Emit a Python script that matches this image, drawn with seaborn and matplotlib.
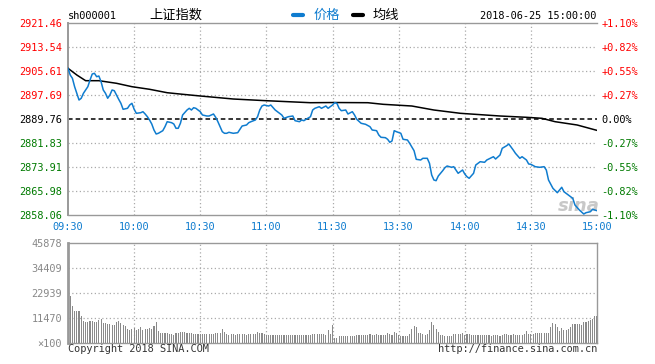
import matplotlib
matplotlib.use("Agg")
import matplotlib.pyplot as plt
from matplotlib.lines import Line2D
import seaborn as sns
import numpy as np

# ---------------- data ----------------
prev_close = 2889.76
y_ticks = [2858.06, 2865.98, 2873.91, 2881.83, 2889.76, 2897.69, 2905.61, 2913.54, 2921.46]
pct_labels = ["-1.10%", "-0.82%", "-0.55%", "-0.27%", "0.00%", "+0.27%", "+0.55%", "+0.82%", "+1.10%"]
time_labels = ["09:30", "10:00", "10:30", "11:00", "11:30", "13:30", "14:00", "14:30", "15:00"]
time_positions = [0, 30, 60, 90, 120, 150, 180, 210, 240]

price_minutes = [0, 1, 2, 3, 5, 6, 7, 9, 10, 11, 12, 13, 14, 15, 16, 17, 18, 19, 20, 21, 22, 23, 24, 25,
                 27, 28, 29, 30, 31, 33, 34, 35, 36, 37, 38, 39, 40, 41, 43, 44, 45, 47, 48, 49, 50, 51,
                 52, 54, 55, 56, 57, 58, 60, 61, 63, 64, 66, 67, 68, 69, 70, 71, 72, 73, 75, 77, 78, 79,
                 81, 82, 83, 85, 86, 87, 88, 89, 91, 92, 94, 95, 97, 98, 100, 102, 103, 105, 106, 107,
                 108, 110, 111, 112, 114, 115, 117, 118, 120, 121, 122, 123, 124, 126, 127, 129, 130,
                 131, 133, 135, 137, 138, 140, 141, 142, 144, 145, 146, 147, 148, 149, 151, 152, 154,
                 155, 157, 158, 160, 161, 163, 164, 165, 166, 167, 168, 170, 171, 172, 174, 175, 177,
                 179, 180, 181, 182, 184, 185, 187, 189, 190, 193, 194, 196, 197, 199, 200, 202, 203,
                 205, 206, 208, 209, 210, 212, 214, 216, 217, 218, 220, 222, 223, 224, 225, 227, 229,
                 230, 232, 234, 235, 237, 238, 240]
price_values = [2906.50, 2904.29, 2903.20, 2900.43, 2896.03, 2896.60, 2898.25, 2900.43, 2902.64, 2904.62,
                2904.85, 2903.73, 2903.96, 2902.08, 2899.34, 2898.25, 2896.60, 2897.68, 2899.34, 2899.10,
                2897.68, 2896.26, 2894.94, 2892.96, 2893.29, 2894.38, 2894.94, 2893.00, 2891.64, 2891.84,
                2892.17, 2891.41, 2890.52, 2889.43, 2888.11, 2886.13, 2884.81, 2885.04, 2885.90, 2887.22,
                2888.87, 2888.54, 2888.11, 2886.69, 2886.69, 2888.34, 2891.08, 2892.73, 2893.29, 2892.73,
                2893.49, 2893.29, 2892.17, 2891.08, 2890.75, 2890.75, 2891.41, 2890.32, 2888.87, 2887.22,
                2885.57, 2885.04, 2885.04, 2885.37, 2885.04, 2885.24, 2886.36, 2887.45, 2887.78, 2888.54,
                2888.87, 2889.43, 2890.52, 2892.73, 2894.05, 2894.38, 2894.05, 2894.38, 2892.73, 2892.17,
                2891.08, 2889.99, 2890.52, 2890.75, 2889.20, 2888.87, 2889.43, 2889.20, 2889.66, 2890.52,
                2892.73, 2893.29, 2893.82, 2893.29, 2894.05, 2893.29, 2894.38, 2895.14, 2894.94, 2893.29,
                2892.50, 2892.73, 2891.41, 2892.17, 2891.08, 2889.66, 2888.34, 2888.01, 2887.22, 2886.13,
                2885.90, 2884.48, 2883.72, 2883.59, 2883.06, 2882.07, 2882.50, 2885.90, 2885.57, 2885.04,
                2883.06, 2882.83, 2881.74, 2879.29, 2876.45, 2876.22, 2876.78, 2876.78, 2875.13, 2871.27,
                2869.62, 2869.39, 2870.94, 2872.69, 2873.68, 2874.24, 2873.81, 2874.01, 2871.83, 2872.92,
                2871.60, 2870.71, 2870.18, 2871.83, 2874.57, 2875.66, 2875.46, 2876.22, 2877.31, 2876.55,
                2877.87, 2880.08, 2880.94, 2881.50, 2879.52, 2878.43, 2876.78, 2877.31, 2876.22, 2874.90,
                2874.80, 2874.01, 2873.81, 2874.01, 2872.92, 2869.62, 2866.88, 2865.42, 2866.31, 2867.21,
                2865.75, 2864.66, 2863.57, 2861.36, 2859.71, 2858.39, 2858.82, 2859.15, 2859.94, 2859.48]

avg_minutes = [0, 4, 8, 14, 22, 29, 37, 45, 52, 60, 75, 90, 110, 121, 136, 143, 156, 166, 178, 196,
               208, 215, 221, 231, 240]
avg_values = [2906.50, 2904.29, 2902.41, 2902.41, 2901.55, 2900.43, 2899.57, 2898.44, 2897.92, 2897.36,
              2896.36, 2895.80, 2895.14, 2895.20, 2895.14, 2894.61, 2894.05, 2892.73, 2891.64, 2890.75,
              2890.32, 2889.99, 2888.87, 2887.78, 2886.00]

vol_ticks = [0, 11470, 22939, 34409, 45878]
vol_tick_labels = ["\u00d7100", "11470", "22939", "34409", "45878"]
volume = [
    20000, 21400, 16800, 14800, 14800, 14800, 12200, 10300, 9800, 9600,
    10300, 10300, 9600, 9800, 10700, 11000, 9200, 9200, 8900, 8700,
    8400, 8400, 9800, 10300, 9200, 8400, 7800, 6600, 6100, 6400,
    6700, 6000, 6300, 7300, 6100, 6300, 6400, 6700, 6400, 7600,
    9800, 5400, 4600, 4500, 4600, 4600, 4100, 4300, 3800, 4800,
    4800, 4900, 4900, 4900, 4800, 4500, 4400, 4000, 3900, 4300,
    4300, 4100, 4300, 4100, 4300, 4300, 4100, 4600, 4600, 4600,
    6600, 5200, 4300, 3800, 4100, 4100, 3800, 4100, 4100, 4100,
    4100, 3800, 4100, 4100, 4100, 4100, 4900, 4600, 4600, 4300,
    3800, 3500, 3800, 3500, 3700, 3800, 3800, 3500, 3500, 3500,
    3500, 3500, 3800, 3800, 3800, 3800, 3700, 3700, 3800, 3500,
    3500, 4100, 4100, 4100, 4100, 4300, 4100, 3800, 6100, 4300,
    8100, 2300, 2300, 3000, 3000, 3000, 3000, 3000, 3000, 3000,
    3400, 3800, 3800, 3800, 3800, 3800, 3800, 4100, 3800, 3800,
    4100, 3800, 3800, 3800, 3800, 4600, 4300, 3800, 5000, 4600,
    3500, 3400, 3400, 3400, 3400, 4300, 6600, 7800, 7200, 4600,
    4600, 4100, 3800, 4100, 6100, 9600, 8400, 6400, 5000, 3800,
    3500, 3400, 3400, 3400, 3400, 4300, 4300, 4000, 4000, 4600,
    3500, 4000, 4000, 3800, 3800, 3800, 3800, 3800, 3500, 3800,
    3500, 3500, 3200, 3500, 3500, 3800, 3200, 3500, 4300, 4100,
    3800, 3800, 4100, 3500, 3500, 3800, 3800, 4100, 5500, 4300,
    4100, 4300, 4600, 4600, 4600, 4600, 4600, 4600, 4600, 7500,
    9200, 8700, 7200, 5400, 6700, 6100, 6100, 6400, 7500, 8700,
    8700, 8900, 8700, 8100, 9500, 9600, 10000, 10500, 11000, 12500,
    12500]
vol_minutes = list(range(len(volume)))

# ---------------- style ----------------
sns.set_theme(style="white")
plt.rcParams["font.family"] = ["DejaVu Sans Mono", "Noto Sans CJK SC"]
MONO = ["DejaVu Sans Mono"]
CJK = ["Noto Sans CJK SC", "DejaVu Sans"]
BLUE = "#0f7ccf"
RED = "#ff0000"
GREEN = "#007a00"
GRID = "#aaaaaa"
SPINE = "#999999"
FS = 7.4

W, H = 655, 364
fig = plt.figure(figsize=(W / 100, H / 100), dpi=100)
fig.patch.set_facecolor("white")
ax = fig.add_axes([68 / W, (H - 215) / H, 529 / W, 192 / H])
axv = fig.add_axes([68 / W, (H - 343) / H, 529 / W, 100 / H])

# ---------------- main price panel ----------------
for x in time_positions[1:-1]:
    ax.axvline(x, color=GRID, lw=0.9, ls=(0, (1, 2)), zorder=0)
for y in y_ticks[1:-1]:
    if y != prev_close:
        ax.axhline(y, color=GRID, lw=0.9, ls=(0, (1, 2)), zorder=0)
ax.axhline(prev_close, color="black", lw=1.1, ls=(0, (3, 2)), zorder=1)

ax.text(0.965, 0.045, "sina", transform=ax.transAxes, fontsize=13, fontstyle="italic",
        fontweight="bold", color="#c8c8c8", ha="center", va="center", family=["DejaVu Sans"], zorder=1)

sns.lineplot(x=avg_minutes, y=avg_values, ax=ax, color="black", lw=1.1, estimator=None, zorder=3)
sns.lineplot(x=price_minutes, y=price_values, ax=ax, color=BLUE, lw=1.1, estimator=None, zorder=4)

ax.set_xlim(0, 240)
ax.set_ylim(y_ticks[0], y_ticks[-1])
ax.set_xlabel("")
ax.set_ylabel("")
ax.set_xticks(time_positions)
ax.set_xticklabels(time_labels, fontsize=FS, color=BLUE, family=MONO)
ax.set_yticks(y_ticks)
ax.set_yticklabels([f"{v:.2f}" for v in y_ticks], fontsize=FS, family=MONO)
for lab, v in zip(ax.get_yticklabels(), y_ticks):
    lab.set_color(RED if v > prev_close else (GREEN if v < prev_close else "black"))
ax.tick_params(axis="x", length=0, pad=5)
ax.tick_params(axis="y", length=0, pad=4.3)
for side in ["top", "bottom", "left"]:
    ax.spines[side].set_color(SPINE)
    ax.spines[side].set_linewidth(1.0)
ax.spines["left"].set_linewidth(1.4)
ax.spines["right"].set_visible(False)

ax2 = ax.twinx()
ax2.set_ylim(y_ticks[0], y_ticks[-1])
ax2.set_yticks(y_ticks)
ax2.set_yticklabels(pct_labels, fontsize=FS, family=MONO)
for lab, v in zip(ax2.get_yticklabels(), y_ticks):
    lab.set_color(RED if v > prev_close else (GREEN if v < prev_close else "black"))
ax2.tick_params(axis="y", length=0, pad=3)
for s in ax2.spines.values():
    s.set_visible(False)

# ---------------- volume panel ----------------
for x in time_positions[1:-1]:
    axv.axvline(x, color=GRID, lw=0.9, ls=(0, (1, 2)), zorder=0)
for y in vol_ticks[1:-1]:
    axv.axhline(y, color=GRID, lw=0.9, ls=(0, (1, 2)), zorder=0)
sns.barplot(x=vol_minutes, y=volume, ax=axv, native_scale=True, orient="x", width=0.5,
            color="#8a8a8a", errorbar=None, linewidth=0, saturation=1, zorder=2)
for p in axv.patches:
    p.set_antialiased(False)
axv.set_xlim(0, 240)
axv.set_ylim(0, vol_ticks[-1])
axv.set_xlabel("")
axv.set_ylabel("")
axv.set_xticks([])
axv.set_yticks(vol_ticks)
axv.set_yticklabels(vol_tick_labels, fontsize=FS, color="#888888", family=MONO)
axv.tick_params(axis="y", length=0, pad=4.3)
for s in axv.spines.values():
    s.set_visible(True)
    s.set_color(SPINE)
    s.set_linewidth(1.0)
axv.spines["left"].set_linewidth(2.0)

# ---------------- header / footer texts ----------------
def fy(py):
    return 1 - py / H

fig.text(68 / W, fy(16), "sh000001", fontsize=FS, family=MONO, va="center", ha="left", color="black")
fig.text(149 / W, fy(15), "上证指数", fontsize=9.5, family=CJK, va="center", ha="left", color="black")
fig.add_artist(Line2D([293 / W, 303 / W], [fy(15), fy(15)], color=BLUE, lw=3, transform=fig.transFigure))
fig.text(314 / W, fy(15), "价格", fontsize=9.5, family=CJK, va="center", ha="left", color=BLUE)
fig.add_artist(Line2D([353 / W, 363 / W], [fy(15), fy(15)], color="black", lw=3, transform=fig.transFigure))
fig.text(373 / W, fy(15), "均线", fontsize=9.5, family=CJK, va="center", ha="left", color="black")
fig.text(596 / W, fy(16), "2018-06-25 15:00:00", fontsize=FS, family=MONO, va="center", ha="right",
         color="black")
fig.text(68 / W, fy(349), "Copyright 2018 SINA.COM", fontsize=FS, family=MONO, va="center", ha="left",
         color="#333333")
fig.text(597 / W, fy(349), "http://finance.sina.com.cn", fontsize=FS, family=MONO, va="center",
         ha="right", color="#333333")

fig.savefig("out.png", dpi=100, facecolor="white")
